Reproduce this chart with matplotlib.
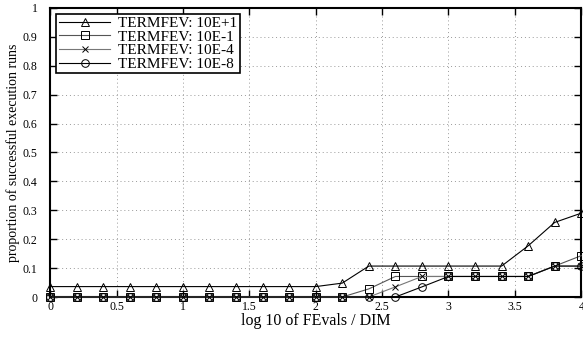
import numpy as np
import matplotlib
matplotlib.use("Agg")
import matplotlib.pyplot as plt

plt.rcParams["font.family"] = ["Liberation Serif", "DejaVu Serif"]

# log10(FEvals / DIM)
x_evals = [0.0, 0.2, 0.4, 0.6, 0.8, 1.0, 1.2, 1.4, 1.6, 1.8, 2.0,
           2.2, 2.4, 2.6, 2.8, 3.0, 3.2, 3.4, 3.6, 3.8, 4.0]

prop_1e1 = [0.036] * 11 + [0.048, 0.107, 0.107, 0.107, 0.107, 0.107, 0.107, 0.177, 0.258, 0.290]
prop_1em1 = [0.0] * 11 + [0.0, 0.028, 0.071, 0.071, 0.071, 0.071, 0.071, 0.071, 0.107, 0.143]
prop_1em4 = [0.0] * 11 + [0.0, 0.0, 0.035, 0.071, 0.071, 0.071, 0.071, 0.071, 0.107, 0.107]
prop_1em8 = [0.0] * 11 + [0.0, 0.0, 0.0, 0.035, 0.071, 0.071, 0.071, 0.071, 0.107, 0.107]

labels = ["TERMFEV: 10E+1", "TERMFEV: 10E-1", "TERMFEV: 10E-4", "TERMFEV: 10E-8"]
series = [prop_1e1, prop_1em1, prop_1em4, prop_1em8]
markers = ["^", "s", "x", "o"]
couleurs = ["black", "#555555", "#777777", "black"]

fig = plt.figure(figsize=(5.83, 3.6), dpi=100)
ax = fig.add_axes([0.086, 0.175, 0.911, 0.803])

for y, lab, m, c in zip(series, labels, markers, couleurs):
    ax.plot(x_evals, y, color=c, linewidth=0.8, marker=m, markersize=5.5 if m != "x" else 4,
            markerfacecolor="none", markeredgecolor="black", markeredgewidth=0.7,
            label=lab, clip_on=False, zorder=3)

ax.set_xlim(0, 4)
ax.set_ylim(0, 1)
ax.set_xticks(np.arange(0, 4.01, 0.5))
ax.set_xticklabels(["0", "0.5", "1", "1.5", "2", "2.5", "3", "3.5", "4"])
ax.set_yticks(np.arange(0, 1.01, 0.1))
ax.set_yticklabels(["0", "0.1", "0.2", "0.3", "0.4", "0.5", "0.6", "0.7", "0.8", "0.9", "1"])
ax.tick_params(direction="in", top=True, right=True, length=5, width=1, labelsize=8.5)
ax.tick_params(axis="x", pad=3)
ax.tick_params(axis="y", pad=9)
ax.grid(True, linestyle=(0, (1, 3)), color="#999999", linewidth=0.7)
for s in ax.spines.values():
    s.set_linewidth(1.5)

ax.set_xlabel("log 10 of FEvals / DIM", fontsize=11.5, labelpad=0)
ax.set_ylabel("proportion of successful execution runs", fontsize=10, labelpad=2)

leg = ax.legend(loc="upper left", fontsize=11, fancybox=False, framealpha=1,
                edgecolor="black", borderpad=0.15, labelspacing=0.0, handlelength=3.4,
                handletextpad=0.5, borderaxespad=0.4)
leg.get_frame().set_linewidth(1.2)

fig.savefig("out.png", dpi=100)
